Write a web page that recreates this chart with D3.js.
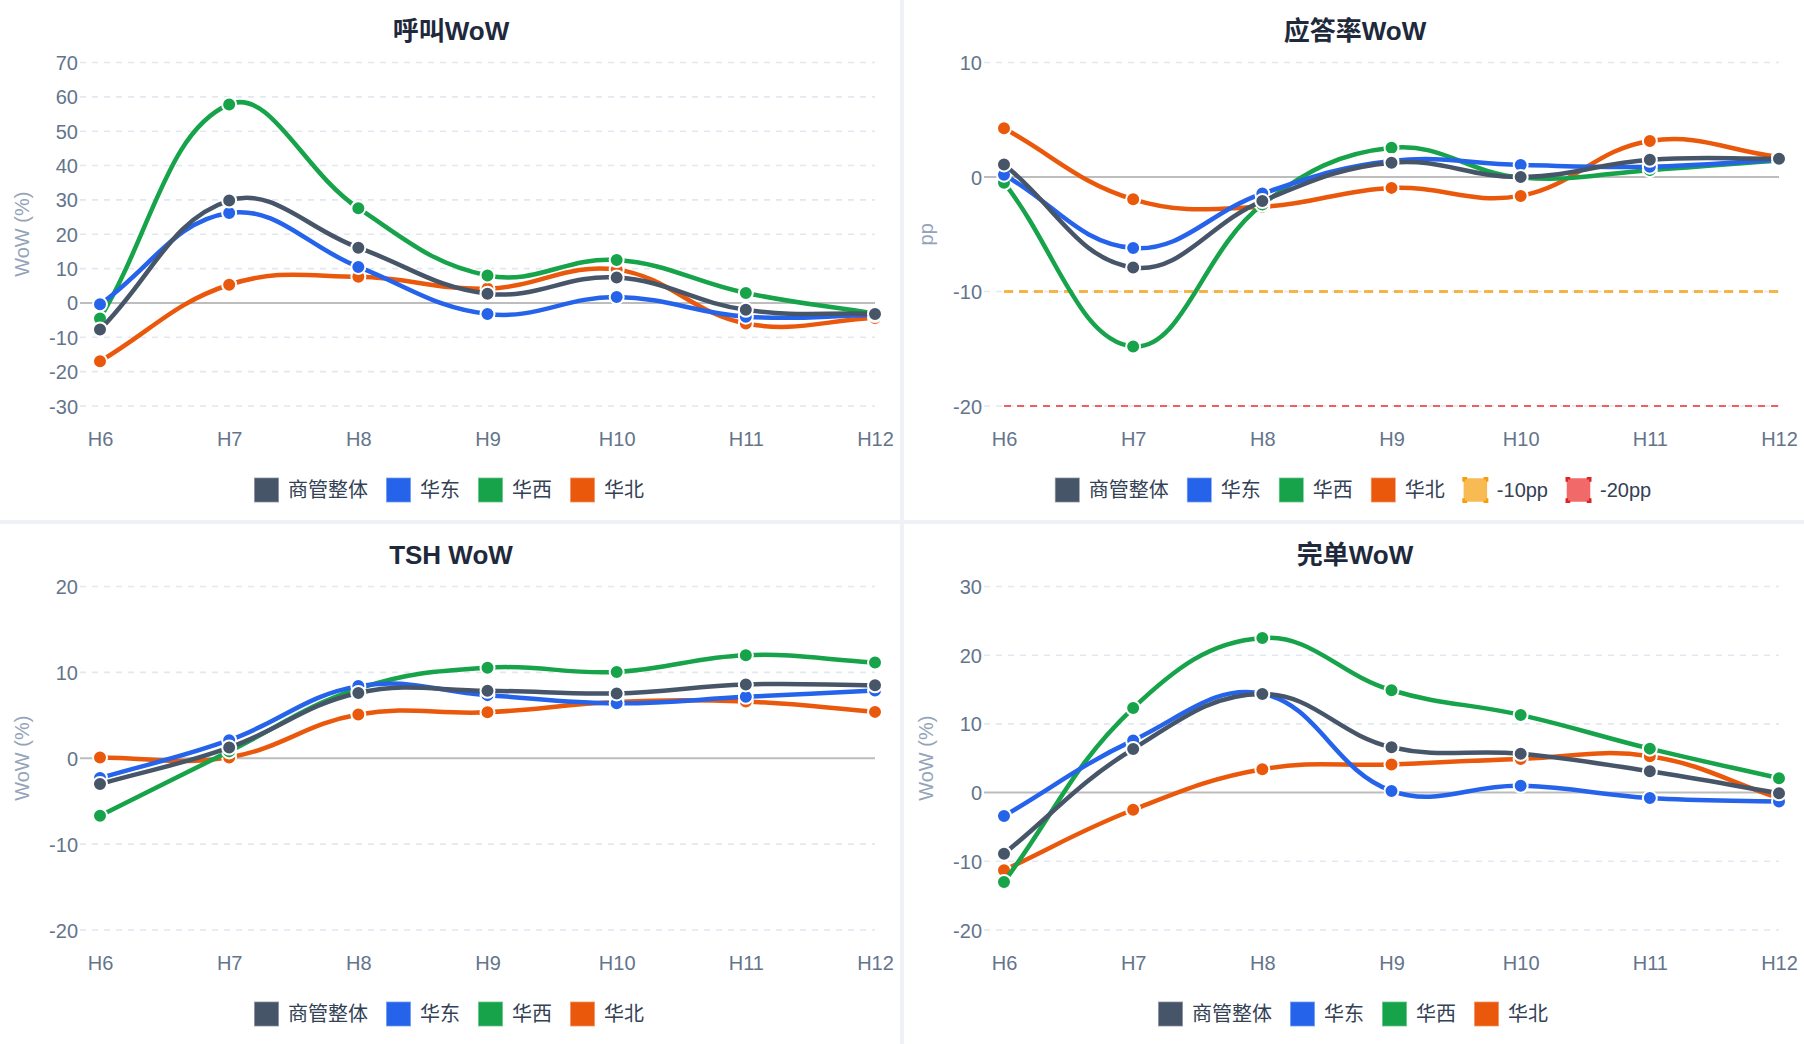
<!DOCTYPE html>
<html>
<head>
<meta charset="utf-8">
<script src="https://cdn.jsdelivr.net/npm/d3@7/dist/d3.min.js"></script>
<style>
  html, body { margin: 0; padding: 0; background: #eef2f7; }
  svg { display: block; }
  text { font-family: "Liberation Sans", Arial, Helvetica, "Noto Sans CJK SC", sans-serif; }
</style>
</head>
<body>
<svg id="chart" width="1804" height="1044"></svg>
<script>
// ---------- DATA ----------
const categories = ['H6', 'H7', 'H8', 'H9', 'H10', 'H11', 'H12'];
const seriesNames = ['商管整体', '华东', '华西', '华北'];
const seriesColors = ['#475569', '#2563eb', '#16a34a', '#ea580c'];

// 呼叫WoW (%)
const callOverall = [-7.7, 29.8, 16.1, 2.7, 7.4, -2.0, -3.2];
const callEast    = [-0.4, 26.2, 10.5, -3.2, 1.7, -4.0, -3.5];
const callWest    = [-4.5, 57.8, 27.6, 8.0, 12.5, 2.9, -3.1];
const callNorth   = [-17.0, 5.3, 7.6, 4.2, 9.7, -6.0, -4.4];

// 应答率WoW (pp)
const answerOverall = [1.1, -7.9, -2.1, 1.25, 0.0, 1.5, 1.6];
const answerEast    = [0.2, -6.2, -1.45, 1.4, 1.05, 0.9, 1.5];
const answerWest    = [-0.5, -14.8, -2.4, 2.55, -0.05, 0.6, 1.45];
const answerNorth   = [4.25, -1.95, -2.6, -0.95, -1.65, 3.15, 1.75];
const thresholdNames  = ['-10pp', '-20pp'];
const thresholdValues = [-10, -20];

// TSH WoW (%)
const tshOverall = [-3.0, 1.25, 7.6, 7.85, 7.55, 8.6, 8.5];
const tshEast    = [-2.3, 2.1, 8.4, 7.35, 6.4, 7.15, 7.9];
const tshWest    = [-6.7, 0.8, 8.1, 10.55, 10.05, 12.0, 11.15];
const tshNorth   = [0.1, 0.1, 5.1, 5.35, 6.55, 6.6, 5.4];

// 完单WoW (%)
const doneOverall = [-8.9, 6.35, 14.35, 6.6, 5.65, 3.1, -0.1];
const doneEast    = [-3.4, 7.6, 14.4, 0.25, 1.0, -0.8, -1.3];
const doneWest    = [-13.0, 12.3, 22.5, 14.9, 11.3, 6.4, 2.1];
const doneNorth   = [-11.3, -2.5, 3.4, 4.1, 4.9, 5.3, -0.8];

// axis tick values
const callTicks   = [-30, -20, -10, 0, 10, 20, 30, 40, 50, 60, 70];
const answerTicks = [-20, -10, 0, 10];
const tshTicks    = [-20, -10, 0, 10, 20];
const doneTicks   = [-20, -10, 0, 10, 20, 30];

// ---------- CHART BUILD ----------
const charts = [
  { title: '呼叫WoW', axisName: 'WoW (%)', ticks: callTicks,
    series: [callOverall, callEast, callWest, callNorth], thresholds: false },
  { title: '应答率WoW', axisName: 'pp', ticks: answerTicks,
    series: [answerOverall, answerEast, answerWest, answerNorth], thresholds: true },
  { title: 'TSH WoW', axisName: 'WoW (%)', ticks: tshTicks,
    series: [tshOverall, tshEast, tshWest, tshNorth], thresholds: false },
  { title: '完单WoW', axisName: 'WoW (%)', ticks: doneTicks,
    series: [doneOverall, doneEast, doneWest, doneNorth], thresholds: false }
];

const thresholdStyles = [
  { stroke: 'rgba(245,158,11,0.75)', width: 3, dash: '9 6', boxFill: 'rgba(245,158,11,0.7)', boxStroke: '#f59e0b' },
  { stroke: 'rgba(239,68,68,0.85)', width: 2, dash: '7 6', boxFill: 'rgba(239,68,68,0.8)', boxStroke: '#dc2626' }
];

const svg = d3.select('#chart');
svg.append('rect').attr('width', 1804).attr('height', 1044).attr('fill', '#eef2f7');

const cardW = 900, cardH = 520, gap = 4;
const plotLeft = 100, plotRight = 875, plotTop = 62.5, plotBottom = 406;
const gridLeft = 80;
const tension = 0.4;
const fmt = d => String(d);

// Chart.js-style spline through pixel points
function splinePath(pts, t) {
  const n = pts.length;
  const cps = [];
  const clampX = v => Math.max(plotLeft, Math.min(plotRight, v));
  const clampY = v => Math.max(plotTop, Math.min(plotBottom, v));
  for (let i = 0; i < n; i++) {
    const prev = pts[Math.max(i - 1, 0)], cur = pts[i], next = pts[Math.min(i + 1, n - 1)];
    const d01 = Math.hypot(cur[0] - prev[0], cur[1] - prev[1]);
    const d12 = Math.hypot(next[0] - cur[0], next[1] - cur[1]);
    let s01 = d01 / (d01 + d12), s12 = d12 / (d01 + d12);
    if (isNaN(s01)) s01 = 0;
    if (isNaN(s12)) s12 = 0;
    const fa = t * s01, fb = t * s12;
    cps.push({
      px: clampX(cur[0] - fa * (next[0] - prev[0])), py: clampY(cur[1] - fa * (next[1] - prev[1])),
      nx: clampX(cur[0] + fb * (next[0] - prev[0])), ny: clampY(cur[1] + fb * (next[1] - prev[1]))
    });
  }
  const p = d3.path();
  p.moveTo(pts[0][0], pts[0][1]);
  for (let i = 1; i < n; i++) {
    p.bezierCurveTo(cps[i - 1].nx, cps[i - 1].ny, cps[i].px, cps[i].py, pts[i][0], pts[i][1]);
  }
  return p.toString();
}

charts.forEach((c, idx) => {
  const col = idx % 2, row = Math.floor(idx / 2);
  const g = svg.append('g').attr('transform', `translate(${col * (cardW + gap)},${row * (cardH + gap)})`);
  g.append('rect').attr('width', cardW).attr('height', cardH).attr('fill', '#ffffff');

  const x = d3.scalePoint().domain(categories).range([plotLeft, plotRight]);
  const y = d3.scaleLinear().domain([d3.min(c.ticks), d3.max(c.ticks)]).range([plotBottom, plotTop]);

  // title
  g.append('text').attr('x', 451).attr('y', 31)
    .attr('text-anchor', 'middle').attr('dominant-baseline', 'central')
    .attr('font-size', 26).attr('font-weight', 'bold').attr('fill', '#1e293b')
    .text(c.title);

  // grid lines
  const gridG = g.append('g');
  c.ticks.forEach(v => {
    if (v === 0) return;
    gridG.append('line')
      .attr('x1', gridLeft).attr('x2', plotRight)
      .attr('y1', y(v)).attr('y2', y(v))
      .attr('stroke', '#e2e8f0').attr('stroke-width', 1.6)
      .attr('stroke-dasharray', '6 6');
  });
  gridG.append('line')
    .attr('x1', gridLeft).attr('x2', plotRight)
    .attr('y1', y(0)).attr('y2', y(0))
    .attr('stroke', '#bdbdbd').attr('stroke-width', 2);

  // y axis labels
  const yAxis = d3.axisLeft(y).tickValues(c.ticks).tickFormat(fmt).tickSize(0).tickPadding(0);
  const yg = g.append('g').attr('transform', `translate(78,0)`).call(yAxis);
  yg.select('.domain').remove();
  yg.selectAll('text').attr('font-size', 20).attr('fill', '#64748b')
    .attr('font-family', '"Liberation Sans", Arial, sans-serif').attr('dy', '0.35em').attr('x', 0);

  // x axis labels
  const xAxis = d3.axisBottom(x).tickSize(0).tickPadding(0);
  const xg = g.append('g').attr('transform', `translate(0,438.5)`).call(xAxis);
  xg.select('.domain').remove();
  xg.selectAll('text').attr('font-size', 20).attr('fill', '#64748b')
    .attr('font-family', '"Liberation Sans", Arial, sans-serif').attr('dy', '0.35em').attr('y', 0);

  // axis name
  g.append('text').attr('transform', `translate(22,${(plotTop + plotBottom) / 2}) rotate(-90)`)
    .attr('text-anchor', 'middle').attr('dominant-baseline', 'central')
    .attr('font-size', 20).attr('fill', '#94a3b8')
    .text(c.axisName);

  // threshold lines
  if (c.thresholds) {
    thresholdValues.forEach((tv, i) => {
      const pts = categories.map(cat => [x(cat), y(tv)]);
      g.append('path').attr('d', d3.line()(pts))
        .attr('fill', 'none').attr('stroke', thresholdStyles[i].stroke)
        .attr('stroke-width', thresholdStyles[i].width)
        .attr('stroke-dasharray', thresholdStyles[i].dash);
    });
  }

  // series: drawn in reverse so first dataset is on top
  for (let s = c.series.length - 1; s >= 0; s--) {
    const vals = c.series[s];
    const pts = vals.map((v, j) => [x(categories[j]), y(v)]);
    const sg = g.append('g');
    sg.append('path').attr('d', splinePath(pts, tension))
      .attr('fill', 'none').attr('stroke', seriesColors[s])
      .attr('stroke-width', 4.5).attr('stroke-linejoin', 'round').attr('stroke-linecap', 'round');
    sg.selectAll('circle').data(vals).enter().append('circle')
      .attr('cx', (v, j) => x(categories[j])).attr('cy', v => y(v))
      .attr('r', 7).attr('fill', seriesColors[s])
      .attr('stroke', '#ffffff').attr('stroke-width', 2);
  }

  // legend
  const items = seriesNames.map((n, i) => ({ name: n, fill: seriesColors[i], stroke: seriesColors[i], dashed: false }));
  if (c.thresholds) {
    thresholdNames.forEach((n, i) => items.push({ name: n, fill: thresholdStyles[i].boxFill, stroke: thresholdStyles[i].boxStroke, dashed: true }));
  }
  const lg = g.append('g');
  const box = 25, boxGap = 9, itemGap = 18;
  let cx = 0;
  items.forEach(it => {
    const ig = lg.append('g').attr('transform', `translate(${cx},0)`);
    const r = ig.append('rect').attr('x', 0.75).attr('y', -box / 2 + 0.75)
      .attr('width', box - 1.5).attr('height', box - 1.5)
      .attr('fill', it.fill);
    if (it.dashed) {
      r.attr('stroke', it.stroke).attr('stroke-width', 2.5)
        .attr('stroke-dasharray', '7 16.5').attr('stroke-dashoffset', 3.5);
    } else {
      r.attr('stroke', it.stroke).attr('stroke-opacity', 0.5).attr('stroke-width', 1.5);
    }
    const t = ig.append('text').attr('x', box + boxGap).attr('y', 0)
      .attr('dominant-baseline', 'central')
      .attr('font-size', 20).attr('fill', '#334155').text(it.name);
    const tw = t.node().getComputedTextLength();
    cx += box + boxGap + tw + itemGap;
  });
  const total = cx - itemGap;
  lg.attr('transform', `translate(${449 - total / 2},490)`);
});
</script>
</body>
</html>
